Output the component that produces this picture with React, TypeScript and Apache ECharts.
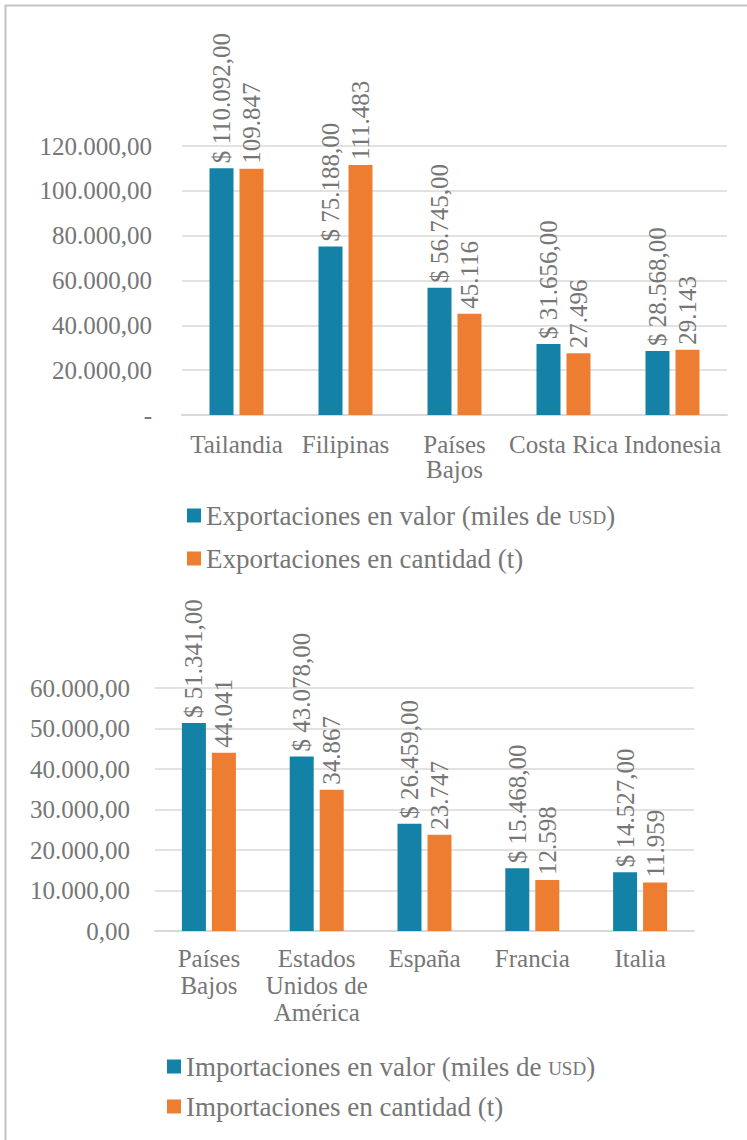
import React, { useEffect, useRef } from "react";
import * as echarts from "echarts";

const expCategories = ["Tailandia", "Filipinas", "Países Bajos", "Costa Rica", "Indonesia"];
const expTickLabels = ["Tailandia", "Filipinas", "Países\nBajos", "Costa Rica", "Indonesia"];
const expValor = [110092, 75188, 56745, 31656, 28568];
const expCantidad = [109847, 111483, 45116, 27496, 29143];

const impCategories = ["Países Bajos", "Estados Unidos de América", "España", "Francia", "Italia"];
const impTickLabels = ["Países\nBajos", "Estados\nUnidos de\nAmérica", "España", "Francia", "Italia"];
const impValor = [51341, 43078, 26459, 15468, 14527];
const impCantidad = [44041, 34867, 23747, 12598, 11959];

const expNames = ["Exportaciones en valor (miles de USD)", "Exportaciones en cantidad (t)"];
const impNames = ["Importaciones en valor (miles de USD)", "Importaciones en cantidad (t)"];

const BLUE = "#1481a7";
const ORANGE = "#ed7d31";
const GRAY = "#767676";
const GRID = "#d9d9d9";
const FONT = "Liberation Serif";
const FS = 25;
const LFS = 27;

function fmt(v: number, d: number): string {
  const s = v.toFixed(d);
  const [i, f] = s.split(".");
  const ii = i.replace(/\B(?=(\d{3})+(?!\d))/g, ".");
  return f ? ii + "," + f : ii;
}

export default function App() {
  const ref = useRef<HTMLDivElement>(null);
  useEffect(() => {
    if (!ref.current) return;
    const chart = echarts.init(ref.current, undefined, { renderer: "svg" });
    const labelBase = {
      show: true,
      position: "top",
      rotate: 90,
      align: "left",
      verticalAlign: "middle",
      distance: 5,
      color: GRAY,
      fontFamily: FONT,
      fontSize: FS,
    };
    const legendText = {
      color: GRAY,
      fontFamily: FONT,
      fontSize: LFS,
      rich: {
        n: { color: GRAY, fontFamily: FONT, fontSize: LFS, verticalAlign: "bottom" },
        sc: { color: GRAY, fontFamily: FONT, fontSize: 19, verticalAlign: "bottom", padding: [0, 0, 2, 0] },
      },
    };
    const legendFmt = (n: string) => {
      const k = n.indexOf("USD");
      if (k < 0) return n;
      return "{n|" + n.slice(0, k) + "}{sc|USD}{n|" + n.slice(k + 3) + "}";
    };
    const mkX = (idx: number, cats: string[], ticks: string[], margin: number, lh: number) => ({
      type: "category",
      gridIndex: idx,
      data: cats,
      axisTick: { show: false },
      axisLine: { lineStyle: { color: GRID, width: 2 } },
      axisLabel: {
        interval: 0,
        margin,
        color: GRAY,
        fontFamily: FONT,
        fontSize: FS,
        lineHeight: lh,
        formatter: (_v: string, i: number) => ticks[i],
      },
    });
    const mkY = (idx: number, max: number, interval: number, margin: number, zeroDash: boolean) => ({
      type: "value",
      gridIndex: idx,
      min: 0,
      max,
      interval,
      axisLine: { show: false },
      axisTick: { show: false },
      splitLine: { lineStyle: { color: GRID, width: 1.5 } },
      axisLabel: {
        margin,
        color: GRAY,
        fontFamily: FONT,
        fontSize: FS,
        formatter: (v: number) => (v === 0 && zeroDash ? "-" : fmt(v, 2)),
      },
    });
    chart.setOption({
      animation: false,
      backgroundColor: "#fff",
      graphic: [
        {
          type: "rect",
          shape: { x: 5.5, y: 5.5, width: 780, height: 1180 },
          style: { fill: "none", stroke: "#c4c4c4", lineWidth: 2 },
          silent: true,
        },
      ],
      grid: [
        { left: 182, top: 146, width: 545, height: 269 },
        { left: 155, top: 688, width: 539, height: 243 },
      ],
      xAxis: [mkX(0, expCategories, expTickLabels, 17, 25), mkX(1, impCategories, impTickLabels, 14, 27)],
      yAxis: [mkY(0, 120000, 20000, 30, true), mkY(1, 60000, 10000, 25, false)],
      legend: [
        {
          data: expNames,
          orient: "vertical",
          left: 182,
          top: 497,
          itemWidth: 14,
          itemHeight: 14,
          itemGap: 16,
          icon: "rect",
          textStyle: legendText,
          formatter: legendFmt,
        },
        {
          data: impNames,
          orient: "vertical",
          left: 162,
          top: 1048,
          itemWidth: 14,
          itemHeight: 14,
          itemGap: 13,
          icon: "rect",
          textStyle: legendText,
          formatter: legendFmt,
        },
      ],
      series: [
        {
          name: expNames[0],
          type: "bar",
          xAxisIndex: 0,
          yAxisIndex: 0,
          data: expValor,
          barWidth: 24,
          barGap: "25%",
          itemStyle: { color: BLUE },
          label: { ...labelBase, formatter: (p: any) => "$ " + fmt(p.value, 2) },
        },
        {
          name: expNames[1],
          type: "bar",
          xAxisIndex: 0,
          yAxisIndex: 0,
          data: expCantidad,
          barWidth: 24,
          barGap: "25%",
          itemStyle: { color: ORANGE },
          label: { ...labelBase, formatter: (p: any) => fmt(p.value, 0) },
        },
        {
          name: impNames[0],
          type: "bar",
          xAxisIndex: 1,
          yAxisIndex: 1,
          data: impValor,
          barWidth: 24,
          barGap: "25%",
          itemStyle: { color: BLUE },
          label: { ...labelBase, formatter: (p: any) => "$ " + fmt(p.value, 2) },
        },
        {
          name: impNames[1],
          type: "bar",
          xAxisIndex: 1,
          yAxisIndex: 1,
          data: impCantidad,
          barWidth: 24,
          barGap: "25%",
          itemStyle: { color: ORANGE },
          label: { ...labelBase, formatter: (p: any) => fmt(p.value, 0) },
        },
      ],
    });
    return () => chart.dispose();
  }, []);
  return (
    <div
      ref={ref}
      style={{ position: "absolute", left: 0, top: 0, width: 747, height: 1140 }}
    />
  );
}
